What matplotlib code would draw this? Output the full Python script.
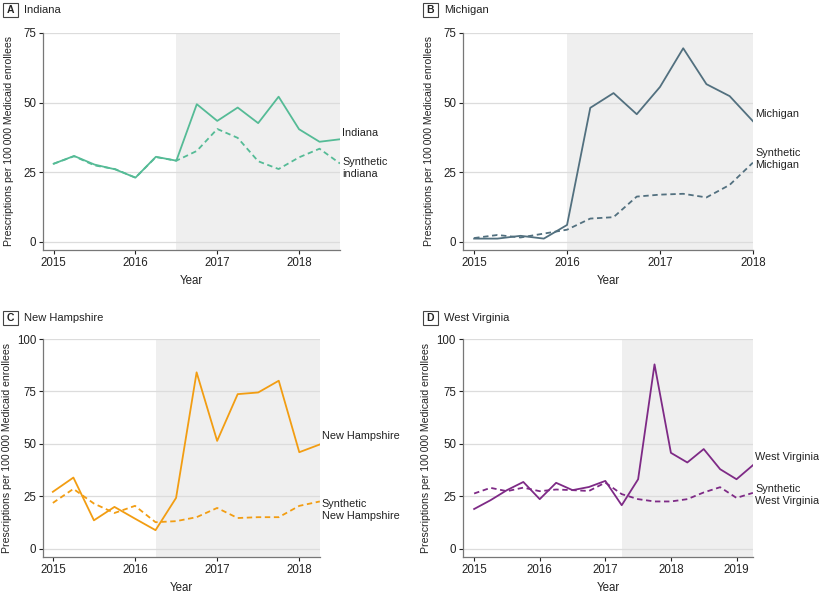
import matplotlib
matplotlib.use("Agg")
import matplotlib.pyplot as plt
from matplotlib.patches import Rectangle

plt.rcParams['font.family'] = ['Liberation Sans', 'DejaVu Sans']

# quarterly time points per state
years_in = [2015 + 0.25 * i for i in range(15)]
years_mi = [2015 + 0.25 * i for i in range(13)]
years_nh = [2015 + 0.25 * i for i in range(14)]
years_wv = [2015 + 0.25 * i for i in range(18)]

# prescriptions per 100 000 Medicaid enrollees
indiana = [28.0, 30.8, 27.7, 26.0, 23.0, 30.5, 29.1, 49.4, 43.4, 48.2, 42.6, 52.1, 40.4, 35.9, 36.8]
synth_indiana = [28.0, 30.7, 27.4, 26.1, 23.0, 30.4, 29.1, 32.6, 40.5, 37.3, 28.9, 26.1, 30.3, 33.4, 28.1]

michigan = [1.1, 1.1, 2.1, 1.1, 6.0, 48.1, 53.4, 45.8, 55.6, 69.5, 56.6, 52.3, 43.3]
synth_michigan = [1.3, 2.4, 1.5, 2.9, 4.3, 8.3, 8.8, 16.2, 16.9, 17.2, 15.9, 20.4, 28.4]

new_hampshire = [27.1, 33.9, 13.5, 19.9, 14.3, 8.8, 24.2, 84.1, 51.4, 73.7, 74.5, 80.1, 46.0, 49.7]
synth_new_hampshire = [21.8, 28.5, 21.5, 17.0, 20.4, 12.6, 13.1, 15.0, 19.4, 14.6, 15.0, 15.0, 20.4, 22.5]

west_virginia = [18.9, 23.1, 27.9, 31.8, 23.6, 31.4, 27.9, 29.4, 32.3, 20.7, 33.1, 87.9,
                 45.7, 41.1, 47.5, 37.9, 33.1, 39.8]
synth_west_virginia = [26.3, 29.0, 27.4, 29.1, 27.4, 28.2, 27.9, 27.5, 31.5, 26.0, 23.6, 22.5,
                       22.5, 23.6, 26.8, 29.3, 24.2, 26.6]

# start of the post-policy (shaded) period
post_start = {'A': 2016.5, 'B': 2016.0, 'C': 2016.25, 'D': 2017.25}

panels = [
    # letter, title, x, actual, synthetic, colour, yticks, ylim, xticks, labels, axes pos, xmin, ylabel x, title y
    ('A', 'Indiana', years_in, indiana, synth_indiana, '#55bb96',
     [0, 25, 50, 75], (-3, 75), [2015, 2016, 2017, 2018],
     ('Indiana', 38.9), ('Synthetic\nindiana', 26.5),
     [0.0525, 0.5784, 0.3626, 0.366], 2014.87, -0.098, 0.983),
    ('B', 'Michigan', years_mi, michigan, synth_michigan, '#52707f',
     [0, 25, 50, 75], (-3, 75), [2015, 2016, 2017, 2018],
     ('Michigan', 46.0), ('Synthetic\nMichigan', 29.6),
     [0.5653, 0.5784, 0.354, 0.366], 2014.88, -0.100, 0.983),
    ('C', 'New Hampshire', years_nh, new_hampshire, synth_new_hampshire, '#f29d12',
     [0, 25, 50, 75, 100], (-4, 100), [2015, 2016, 2017, 2018],
     ('New Hampshire', 53.7), ('Synthetic\nNew Hampshire', 18.3),
     [0.0525, 0.0607, 0.338, 0.3676], 2014.88, -0.112, 0.463),
    ('D', 'West Virginia', years_wv, west_virginia, synth_west_virginia, '#7e2a86',
     [0, 25, 50, 75, 100], (-4, 100), [2015, 2016, 2017, 2018, 2019],
     ('West Virginia', 43.5), ('Synthetic\nWest Virginia', 25.5),
     [0.5653, 0.0607, 0.354, 0.3676], 2014.83, -0.112, 0.463),
]

fig = plt.figure(figsize=(8.19, 5.93), dpi=100)
W, H = 819.0, 593.0

for (letter, title, x, actual, synth, color, yticks, ylim, xticks, lab1, lab2,
     pos, xmin, ylab_x, title_y) in panels:
    ax = fig.add_axes(pos)
    ax.set_xlim(xmin, x[-1])
    ax.set_ylim(*ylim)

    ax.axvspan(post_start[letter], x[-1], color='#efefef', zorder=0, lw=0)
    for yt in yticks:
        ax.axhline(yt, color='#dcdcdc', lw=0.9, zorder=1)

    ax.plot(x, synth, color=color, lw=1.3, ls=(0, (3, 2)), zorder=3)
    ax.plot(x, actual, color=color, lw=1.3, zorder=4)

    ax.set_yticks(yticks)
    ax.set_xticks(xticks)
    ax.set_xticklabels([str(t) for t in xticks])
    ax.tick_params(labelsize=8.3, colors='#222222', length=3, width=0.8, pad=2)
    for s in ['top', 'right']:
        ax.spines[s].set_visible(False)
    for s in ['left', 'bottom']:
        ax.spines[s].set_color('#777777')
        ax.spines[s].set_linewidth(0.9)

    ax.set_xlabel('Year', fontsize=8.3, color='#222222', labelpad=4)
    ax.set_ylabel('Prescriptions per 100\u2009000 Medicaid enrollees',
                  fontsize=7.6, color='#222222')
    ax.yaxis.set_label_coords(ylab_x, 0.5)

    # end-of-line labels
    for text, yv in (lab1, lab2):
        ax.annotate(text, xy=(x[-1], yv), xytext=(1.5, 0), textcoords='offset points',
                    ha='left', va='center', fontsize=7.8, color='#222222',
                    linespacing=1.2, annotation_clip=False)

    # panel letter box and title
    bx = pos[0] * W - 40
    by = title_y * H
    fig.patches.append(Rectangle(((bx) / W, (by - 7) / H), 15 / W, 14 / H,
                                 transform=fig.transFigure, fc='white',
                                 ec='#444444', lw=0.8))
    fig.text((bx + 7.5) / W, by / H, letter, fontsize=7.5, fontweight='bold',
             color='#222222', ha='center', va='center')
    fig.text((bx + 21) / W, by / H, title, fontsize=8.0, color='#222222',
             ha='left', va='center')

fig.savefig('out.png', dpi=100)
